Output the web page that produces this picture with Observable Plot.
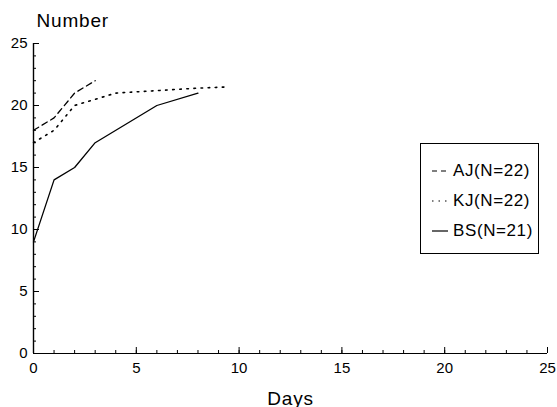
<!DOCTYPE html>
<html><head><meta charset="utf-8">
<script src="https://cdn.jsdelivr.net/npm/d3@7"></script>
<script src="https://cdn.jsdelivr.net/npm/@observablehq/plot@0.6"></script>
<style>
body{margin:0;background:#fff;font-family:"Liberation Sans",Arial,sans-serif;}
#wrap{position:relative;width:557px;height:407px;}
#legend{position:absolute;left:420px;top:143px;width:119px;height:111px;border:1px solid #000;box-sizing:border-box;}
.row{position:absolute;left:11px;font-size:17px;letter-spacing:0.6px;color:#000;display:flex;align-items:center;line-height:20px;}
.row svg{margin-right:5px;}
</style></head><body>
<div id="wrap"><div id="chart"></div><div id="legend"></div></div>
<script>
const seriesNames = ["AJ(N=22)", "KJ(N=22)", "BS(N=21)"];
const ajDays = [0, 1, 2, 3];
const ajValues = [18, 19, 21, 22];
const kjDays = [0, 1, 2, 3, 4, 5, 6, 7, 8, 9.5];
const kjValues = [17, 18, 20, 20.5, 21, 21.1, 21.2, 21.3, 21.4, 21.5];
const bsDays = [0, 1, 2, 3, 6, 8];
const bsValues = [9, 14, 15, 17, 20, 21];
const xTicks = [0, 5, 10, 15, 20, 25];
const yTicks = [0, 5, 10, 15, 20, 25];
const dashes = ["6,4", "1.6,5.5", null];

const toRows = (xs, ys, s) => xs.map((x, i) => ({x, y: ys[i], s}));
const aj = toRows(ajDays, ajValues, seriesNames[0]);
const kj = toRows(kjDays, kjValues, seriesNames[1]);
const bs = toRows(bsDays, bsValues, seriesNames[2]);

const chart = Plot.plot({
  width: 557, height: 407,
  marginLeft: 33, marginRight: 10, marginTop: 43, marginBottom: 54,
  style: {fontFamily: "Liberation Sans, Arial, sans-serif", fontSize: "15px", color: "#000", background: "#fff"},
  x: {domain: [0, 25]},
  y: {domain: [0, 25]},
  marks: [
    Plot.axisX({ticks: d3.range(0, 26), tickSize: -3, text: null, label: null}),
    Plot.axisX({ticks: xTicks, tickSize: -6, text: null, label: null}),
    Plot.axisX({ticks: xTicks, tickSize: 0, tickPadding: 9, label: null, fontSize: 15}),
    Plot.axisY({ticks: d3.range(0, 26), tickSize: -3, text: null, label: null}),
    Plot.axisY({ticks: yTicks, tickSize: -6, text: null, label: null}),
    Plot.axisY({ticks: yTicks, tickSize: 0, tickPadding: 6, label: null, fontSize: 15}),
    Plot.ruleX([0], {stroke: "#000", strokeWidth: 1.4}),
    Plot.ruleY([0], {stroke: "#000", strokeWidth: 1.2}),
    Plot.line(aj, {x: "x", y: "y", stroke: "#000", strokeWidth: 1.3, strokeDasharray: dashes[0]}),
    Plot.line(kj, {x: "x", y: "y", stroke: "#000", strokeWidth: 1.6, strokeDasharray: dashes[1]}),
    Plot.line(bs, {x: "x", y: "y", stroke: "#000", strokeWidth: 1.3}),
    Plot.text(["Number"], {frameAnchor: "top-left", dx: 3, dy: -30, fontSize: 19, textAnchor: "start", fill: "#000"}),
    Plot.text(["Days"], {frameAnchor: "bottom", dy: 51, fontSize: 19, fill: "#000"})
  ]
});
chart.querySelectorAll("text").forEach(t => {
  if (t.textContent === "Number" || t.textContent === "Days") t.setAttribute("letter-spacing", "0.8");
});
document.getElementById("chart").appendChild(chart);

const legend = document.getElementById("legend");
seriesNames.forEach((name, i) => {
  const row = document.createElement("div");
  row.className = "row";
  row.style.top = (17 + i * 30) + "px";
  const dash = dashes[i] ? `stroke-dasharray="${i === 0 ? '5,4' : '1.5,5'}"` : "";
  row.innerHTML = `<svg width="16" height="10"><line x1="0" y1="5" x2="16" y2="5" stroke="#000" stroke-width="1.2" ${dash}/></svg><span>${name}</span>`;
  legend.appendChild(row);
});
</script></body></html>
